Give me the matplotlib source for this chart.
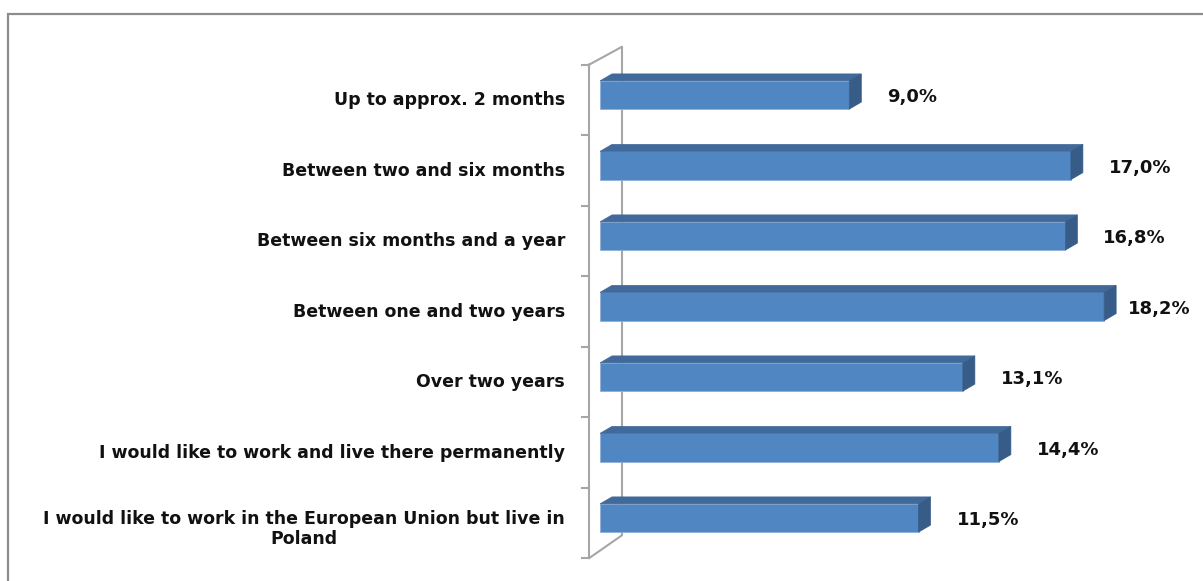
import matplotlib.pyplot as plt
import matplotlib.transforms as mtransforms
from matplotlib.patches import Polygon, Rectangle
from matplotlib.lines import Line2D

categories = [
    "Up to approx. 2 months",
    "Between two and six months",
    "Between six months and a year",
    "Between one and two years",
    "Over two years",
    "I would like to work and live there permanently",
    "I would like to work in the European Union but live in\nPoland",
]
shares = [9.0, 17.0, 16.8, 18.2, 13.1, 14.4, 11.5]

FRONT = "#5086c1"
TOP = "#41699a"
SIDE = "#385c88"
WALL = "#a6a6a6"
FONT = ["DejaVu Sans"]

DEPTH = (12, 7)      # bar depth in pixels (right, up)
BAR_H = 0.40

fig = plt.figure(figsize=(12.03, 5.81), dpi=100)
W, H = 1203, 581

# outer chart frame (only top and left edges are visible)
fig.patches.append(Rectangle((8 / W, -0.1), 1.2, (581 - 14) / H + 0.1,
                             transform=fig.transFigure, fill=False,
                             edgecolor="#8c8c8c", linewidth=1.6))

ax = fig.add_axes([600 / W, (581 - 553.25) / H, 603 / W, (553.25 - 59.75) / H])
ax.set_xlim(0, 603 / 27.7)
ax.set_ylim(len(categories) - 0.5, -0.5)
ax.axis("off")

n = len(categories)
pos = list(range(n))
ident = mtransforms.IdentityTransform()

# walls: front axis line with ticks, back wall and connecting diagonals
fig.canvas.draw()
ft = ax.transData.transform([(0, -0.5), (0, n - 0.5)])
ftop = (ft[0][0] - 11, ft[0][1] - 5)
fbot = (ft[1][0] - 11, ft[1][1] - 5)
btop = (ftop[0] + 33, ftop[1] + 18)
bbot = (fbot[0] + 33, fbot[1] + 23)
ax.add_line(Line2D((ftop[0], btop[0], bbot[0], fbot[0], ftop[0]),
                   (ftop[1], btop[1], bbot[1], fbot[1], ftop[1]),
                   transform=ident, color=WALL, lw=1.5, clip_on=False, zorder=1))
for b in range(n + 1):
    yb = ax.transData.transform((0, b - 0.5))[1] - 5
    ax.add_line(Line2D([ftop[0] - 7, ftop[0]], [yb, yb], transform=ident,
                       color=WALL, lw=1.5, clip_on=False, zorder=1))

# 3D bars: front face from barh, top and side faces offset by the depth
ax.barh(pos, shares, height=BAR_H, color=FRONT, edgecolor="#8fb0d8",
        linewidth=0.6, zorder=3)
dx, dy = DEPTH
for i, v in zip(pos, shares):
    (x0, yt), (x1, yb) = ax.transData.transform([(0, i - BAR_H / 2), (v, i + BAR_H / 2)])
    top = [(x0, yt), (x1, yt), (x1 + dx, yt + dy), (x0 + dx, yt + dy)]
    side = [(x1, yt), (x1 + dx, yt + dy), (x1 + dx, yb + dy), (x1, yb)]
    ax.add_patch(Polygon(top, closed=True, transform=ident, facecolor=TOP,
                         edgecolor=TOP, lw=0.5, clip_on=False, zorder=3))
    ax.add_patch(Polygon(side, closed=True, transform=ident, facecolor=SIDE,
                         edgecolor=SIDE, lw=0.5, clip_on=False, zorder=3))

# category labels
lab = mtransforms.offset_copy(ax.transData, fig=fig, x=-35, y=-5, units="dots")
for i, c in zip(pos, categories):
    extra = -6 if "\n" in c else 0
    t = mtransforms.offset_copy(lab, fig=fig, x=0, y=extra, units="dots")
    ax.text(0, i, c, transform=t, ha="right", va="center",
            multialignment="center", fontsize=12.5, fontweight="bold",
            family=FONT, color="#111111", clip_on=False, linespacing=1.15)

# value labels, kept inside the chart area
vals = []
for i, v in zip(pos, shares):
    t = ax.annotate(f"{v:.1f}".replace(".", ",") + "%", (v, i),
                    xytext=(38, -2), textcoords="offset pixels", ha="left",
                    va="center", fontsize=13, fontweight="bold",
                    family=FONT, color="#111111", annotation_clip=False)
    vals.append(t)
fig.canvas.draw()
r = fig.canvas.get_renderer()
for t in vals:
    bb = t.get_window_extent(r)
    if bb.x1 > W - 12:
        t.xyann = (38 - (bb.x1 - (W - 12)), -2)

fig.savefig("out.png", dpi=100, facecolor="white")
